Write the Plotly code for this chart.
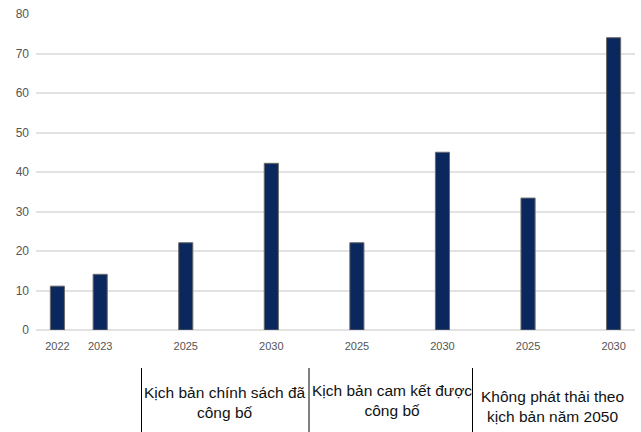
import plotly.graph_objects as go

# Values per scenario/year
years = ["2022", "2023", "2025", "2030", "2025", "2030", "2025", "2030"]
slots = [0, 1, 3, 5, 7, 9, 11, 13]
values = [11.1, 14.1, 22.1, 42.2, 22.1, 45.0, 33.4, 74.0]
scenarios = [
    "Kịch bản chính sách đã<br>công bố",
    "Kịch bản cam kết được<br>công bố",
    "Không phát thải theo<br>kịch bản năm 2050",
]

W, H = 641, 432
L, R, T, B = 36, 6, 14, 102
pw, ph = W - L - R, H - T - B


def px_x(px):
    return (px - L) / pw


def px_y(py):
    return (H - B - py) / ph


fig = go.Figure(
    go.Bar(
        x=slots,
        y=values,
        width=0.33,
        marker=dict(color="#0a275e", line=dict(color="#6b6b6b", width=1)),
    )
)

# Scenario labels beneath the year ticks
label_x = [225, 392, 552]
label_y = [403, 400, 406]
for text, lx, ly in zip(scenarios, label_x, label_y):
    fig.add_annotation(
        x=px_x(lx), y=px_y(ly), xref="paper", yref="paper",
        text=text, showarrow=False, align="center",
        font=dict(family="Liberation Sans, Arial", size=15.5, color="#111111"),
        xanchor="center", yanchor="middle",
    )

# Separators between scenario labels
for sx in [141.5, 309, 472.5]:
    fig.add_shape(
        type="line", xref="paper", yref="paper",
        x0=px_x(sx), x1=px_x(sx), y0=px_y(368), y1=px_y(433),
        line=dict(color="#000000", width=1),
    )

fig.update_layout(
    width=W, height=H,
    margin=dict(l=L, r=R, t=T, b=B),
    plot_bgcolor="white", paper_bgcolor="white",
    showlegend=False,
    font=dict(family="Liberation Sans, Arial", color="#555555"),
)
fig.update_xaxes(
    range=[-0.5, 13.5], tickmode="array", tickvals=slots, ticktext=years,
    tickfont=dict(size=11, color="#555555"), showgrid=False, zeroline=False,
    showline=False, ticks="", ticklabelstandoff=8,
)
fig.update_yaxes(
    range=[0, 80], dtick=10, tickfont=dict(size=12, color="#555555"),
    gridcolor="#e2e2e2", gridwidth=1.5, zeroline=True, zerolinecolor="#e2e2e2",
    zerolinewidth=1.5, ticklabelstandoff=6,
)

fig.write_html("out.html")
